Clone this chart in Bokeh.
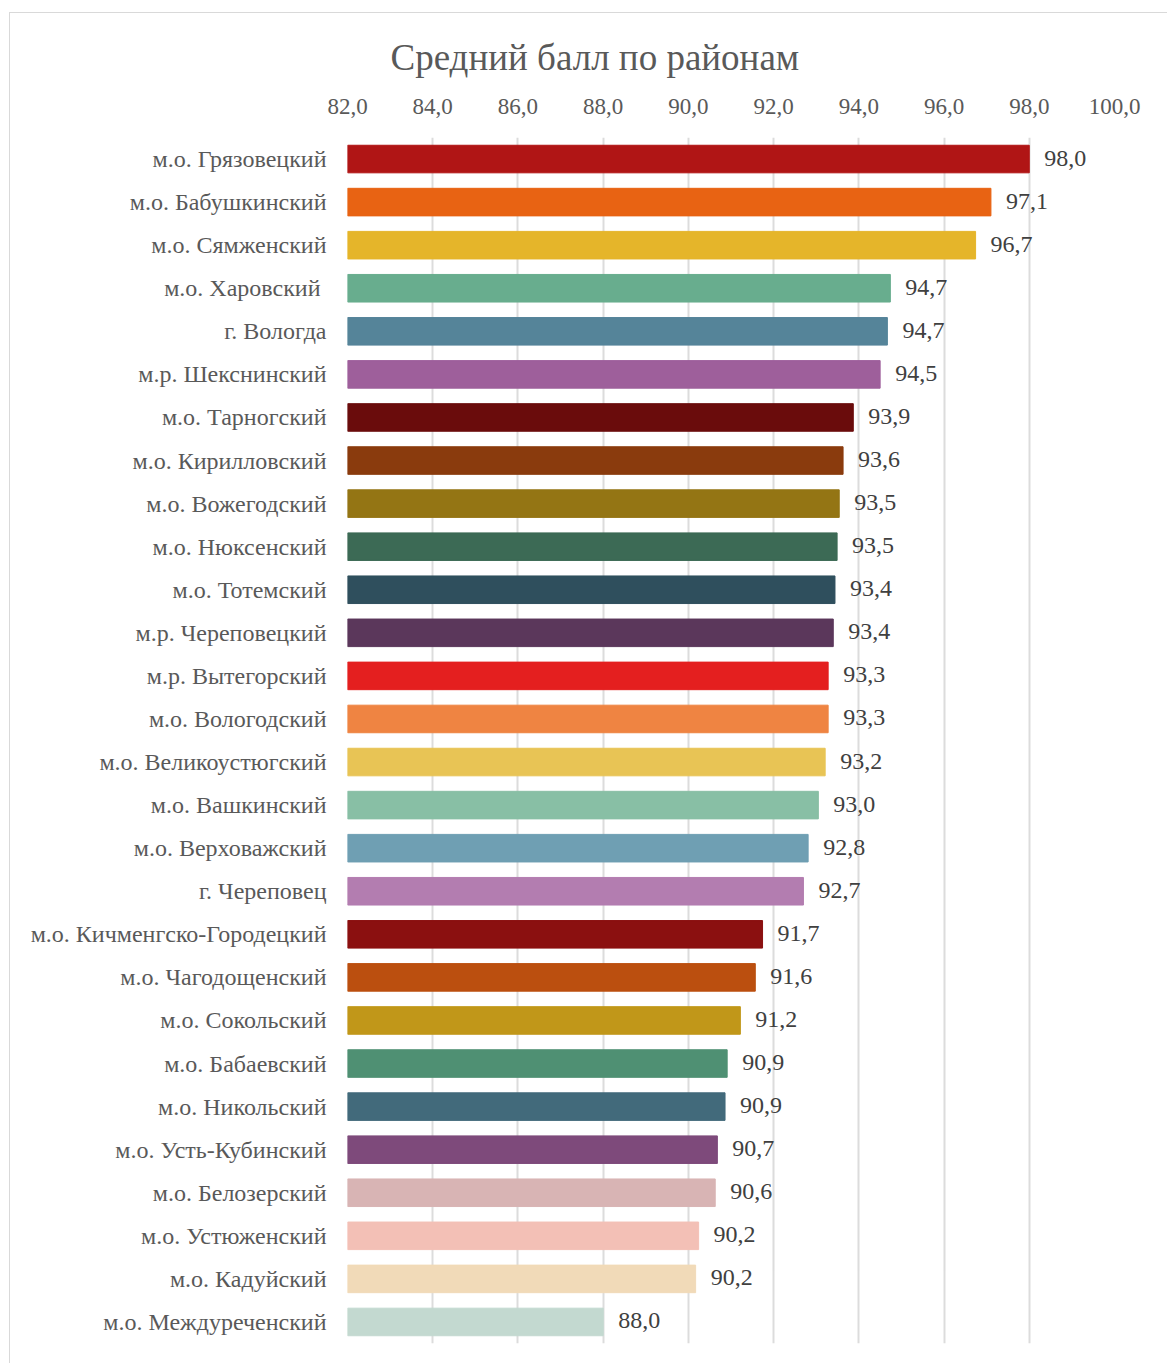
from bokeh.plotting import figure
from bokeh.models import ColumnDataSource, FactorRange, Range1d, FixedTicker
from bokeh.embed import file_html
from bokeh.resources import INLINE
from bokeh.core.properties import value

districts = [
    "м.о. Грязовецкий", "м.о. Бабушкинский", "м.о. Сямженский", "м.о. Харовский ",
    "г. Вологда", "м.р. Шекснинский", "м.о. Тарногский", "м.о. Кирилловский",
    "м.о. Вожегодский", "м.о. Нюксенский", "м.о. Тотемский", "м.р. Череповецкий",
    "м.р. Вытегорский", "м.о. Вологодский", "м.о. Великоустюгский", "м.о. Вашкинский",
    "м.о. Верховажский", "г. Череповец", "м.о. Кичменгско-Городецкий", "м.о. Чагодощенский",
    "м.о. Сокольский", "м.о. Бабаевский", "м.о. Никольский", "м.о. Усть-Кубинский",
    "м.о. Белозерский", "м.о. Устюженский", "м.о. Кадуйский", "м.о. Междуреченский",
]
scores = [
    98.0, 97.1, 96.74, 94.74,
    94.67, 94.5, 93.87, 93.63,
    93.54, 93.49, 93.44, 93.4,
    93.28, 93.28, 93.21, 93.05,
    92.81, 92.7, 91.74, 91.57,
    91.22, 90.91, 90.86, 90.68,
    90.63, 90.24, 90.17, 88.0,
]
colors = [
    "#B01515", "#E86313", "#E5B52A", "#68AD8E",
    "#558499", "#9E5F9B", "#6A0C0C", "#8A3B0D",
    "#947514", "#3C6A55", "#2F4F5D", "#5B375B",
    "#E41F1F", "#EF8442", "#E8C455", "#88BFA5",
    "#6F9FB3", "#B37DB0", "#8B1010", "#BB4F0F",
    "#C19719", "#4F9073", "#426A7B", "#7E4A7B",
    "#D8B4B4", "#F3C0B6", "#F1DAB8", "#C3D9D0",
]
tick_values = [82, 84, 86, 88, 90, 92, 94, 96, 98, 100]
tick_labels = ["82,0", "84,0", "86,0", "88,0", "90,0", "92,0", "94,0", "96,0", "98,0", "100,0"]
x_start, x_end = 82, 100

value_labels = [f"{v:.1f}".replace(".", ",") for v in scores]

src = ColumnDataSource(dict(d=districts, v=scores, c=colors, lbl=value_labels))

FONT = "Liberation Serif"

p = figure(width=1158, height=1351,
           y_range=FactorRange(*reversed(districts)),
           x_range=Range1d(x_start, x_end),
           x_axis_location="above",
           output_backend="svg", toolbar_location=None,
           title="Средний балл по районам")
p.margin = (12, 0, 0, 9)
p.styles = {"border-left": "1px solid #d9d9d9", "border-top": "1px solid #d9d9d9"}
p.min_border_left = 337
p.min_border_right = 54
p.min_border_top = 124
p.min_border_bottom = 21
p.outline_line_color = None

p.hbar(y="d", left=x_start, right="v", height=0.64, color="c", source=src)
p.text(x="v", y="d", text="lbl", source=src, x_offset=15, y_offset=-1,
       text_baseline="middle", text_align="left",
       text_font=value(FONT), text_font_size="24px", text_color="#404040")

p.title.text_font = FONT
p.title.text_font_size = "37px"
p.title.text_font_style = "normal"
p.title.text_color = "#595959"
p.title.align = "left"
p.title.offset = 43
p.title.standoff = 36

xa = p.xaxis[0]
xa.ticker = FixedTicker(ticks=tick_values)
xa.major_label_overrides = {t: l for t, l in zip(tick_values, tick_labels)}
xa.major_label_text_font = FONT
xa.major_label_text_font_size = "23px"
xa.major_label_text_color = "#595959"
xa.axis_line_color = None
xa.major_tick_line_color = None
xa.minor_tick_line_color = None
xa.major_label_standoff = 18

ya = p.yaxis[0]
ya.major_label_text_font = FONT
ya.major_label_text_font_size = "24px"
ya.major_label_text_color = "#595959"
ya.axis_line_color = None
ya.major_tick_line_color = None
ya.minor_tick_line_color = None
ya.major_label_standoff = 15

p.xgrid.grid_line_color = "#dcdcdc"
p.xgrid.grid_line_width = 2
p.ygrid.grid_line_color = None

open("out.html", "w").write(file_html(p, INLINE))
